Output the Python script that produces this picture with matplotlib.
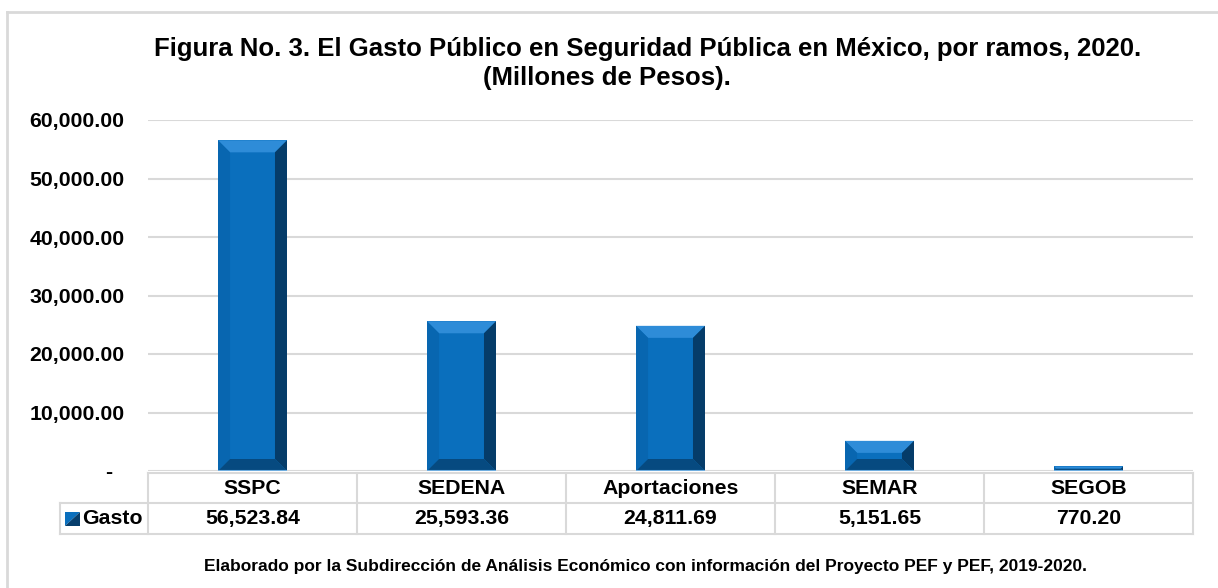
import matplotlib
matplotlib.use("Agg")
import matplotlib.pyplot as plt
from matplotlib.patches import Polygon
from matplotlib.lines import Line2D
import matplotlib.transforms as mtrans

ramos = ["SSPC", "SEDENA", "Aportaciones", "SEMAR", "SEGOB"]
gasto = [56523.84, 25593.36, 24811.69, 5151.65, 770.20]
yticks = [0, 10000, 20000, 30000, 40000, 50000, 60000]
serie = "Gasto"
titulo1 = "Figura No. 3. El Gasto Público en Seguridad Pública en México, por ramos, 2020."
titulo2 = "(Millones de Pesos)."
fuente = "Elaborado por la Subdirección de Análisis Económico con información del Proyecto PEF y PEF, 2019-2020."

plt.rcParams['font.family'] = ['Liberation Sans', 'DejaVu Sans']
plt.rcParams['font.weight'] = 'bold'

W, H = 1218, 588
fig = plt.figure(figsize=(W / 100, H / 100), dpi=100)
x0, x1, ytop, ybot = 148, 1193, 120, 471
ax = fig.add_axes([x0 / W, 1 - ybot / H, (x1 - x0) / W, (ybot - ytop) / H])
n = len(ramos)
ax.set_xlim(-0.5, n - 0.5)
ax.set_ylim(0, 60000)

grid = '#D9D9D9'
fs = 15.3
# outer frame (right/bottom edges fall outside the picture)
fig.add_artist(Line2D([7 / W, 7 / W], [0, 1 - 12 / H], color=grid, lw=2))
fig.add_artist(Line2D([7 / W, 1], [1 - 12 / H, 1 - 12 / H], color=grid, lw=2))

ax.set_yticks(yticks)
ax.set_yticklabels(["-  " if v == 0 else "{:,.2f}".format(v) for v in yticks], fontsize=fs)
ax.tick_params(axis='y', length=0, pad=17)
ax.set_xticks([])
for s in ax.spines.values():
    s.set_visible(False)
ax.grid(axis='y', color=grid, lw=1.5)
ax.set_axisbelow(True)

# bars with bevel
bw = 0.33
ppx = (x1 - x0) / n
ppy = (ybot - ytop) / 60000
ax.bar(range(n), gasto, width=bw, color='#0A6FBD', zorder=2)
for i, v in enumerate(gasto):
    L, R = i - bw / 2, i + bw / 2
    e = min(12, v * ppy / 2)
    bx, by = e / ppx, e / ppy
    polys = [
        ([(L, v), (R, v), (R - bx, v - by), (L + bx, v - by)], '#2E8CD8'),
        ([(L, 0), (L, v), (L + bx, v - by), (L + bx, by)], '#0866B0'),
        ([(R, 0), (R, v), (R - bx, v - by), (R - bx, by)], '#053C69'),
        ([(L, 0), (R, 0), (R - bx, by), (L + bx, by)], '#064A80'),
    ]
    for pts, c in polys:
        ax.add_patch(Polygon(pts, closed=True, facecolor=c, edgecolor='none', zorder=3))
    ax.plot([L, R], [0, 0], color='#6FAEE0', lw=1.5, zorder=4, solid_capstyle='butt')

# data table
tr = mtrans.blended_transform_factory(ax.transData, ax.transAxes)
def yf(p):
    return (ybot - p) / (ybot - ytop)
xl = -0.5 - (x0 - 60) / ppx
t0, t1, t2 = yf(473), yf(503), yf(534)
kw = dict(color=grid, lw=1.5, transform=tr, clip_on=False)
ax.add_line(Line2D([-0.5, n - 0.5], [t0, t0], **kw))
ax.add_line(Line2D([xl, n - 0.5], [t1, t1], **kw))
ax.add_line(Line2D([xl, n - 0.5], [t2, t2], **kw))
for k in range(n + 1):
    ax.add_line(Line2D([k - 0.5, k - 0.5], [t0, t2], **kw))
ax.add_line(Line2D([xl, xl], [t1, t2], **kw))
for i, (r, v) in enumerate(zip(ramos, gasto)):
    ax.text(i, (t0 + t1) / 2, r, transform=tr, ha='center', va='center', fontsize=fs)
    ax.text(i, (t1 + t2) / 2, "{:,.2f}".format(v), transform=tr, ha='center', va='center', fontsize=fs)

# legend key
kx0 = -0.5 - (x0 - 65) / ppx
kw_ = 15 / ppx
ky0, ky1 = yf(526), yf(512)
ax.add_patch(Polygon([(kx0, ky0), (kx0, ky1), (kx0 + kw_, ky1)], closed=True,
                     facecolor='#0A6FBD', edgecolor='none', transform=tr, clip_on=False))
ax.add_patch(Polygon([(kx0, ky0), (kx0 + kw_, ky0), (kx0 + kw_, ky1)], closed=True,
                     facecolor='#063E6C', edgecolor='none', transform=tr, clip_on=False))
ax.text(kx0 + kw_ + 2 / ppx, (t1 + t2) / 2, serie, transform=tr, ha='left', va='center', fontsize=fs)

fig.text(648 / W, 1 - 49 / H, titulo1, ha='center', va='center', fontsize=18.5)
fig.text(607 / W, 1 - 78 / H, titulo2, ha='center', va='center', fontsize=18.5)
fig.text(646 / W, 1 - 567 / H, fuente, ha='center', va='center', fontsize=12.5)

fig.savefig("out.png", dpi=100)
